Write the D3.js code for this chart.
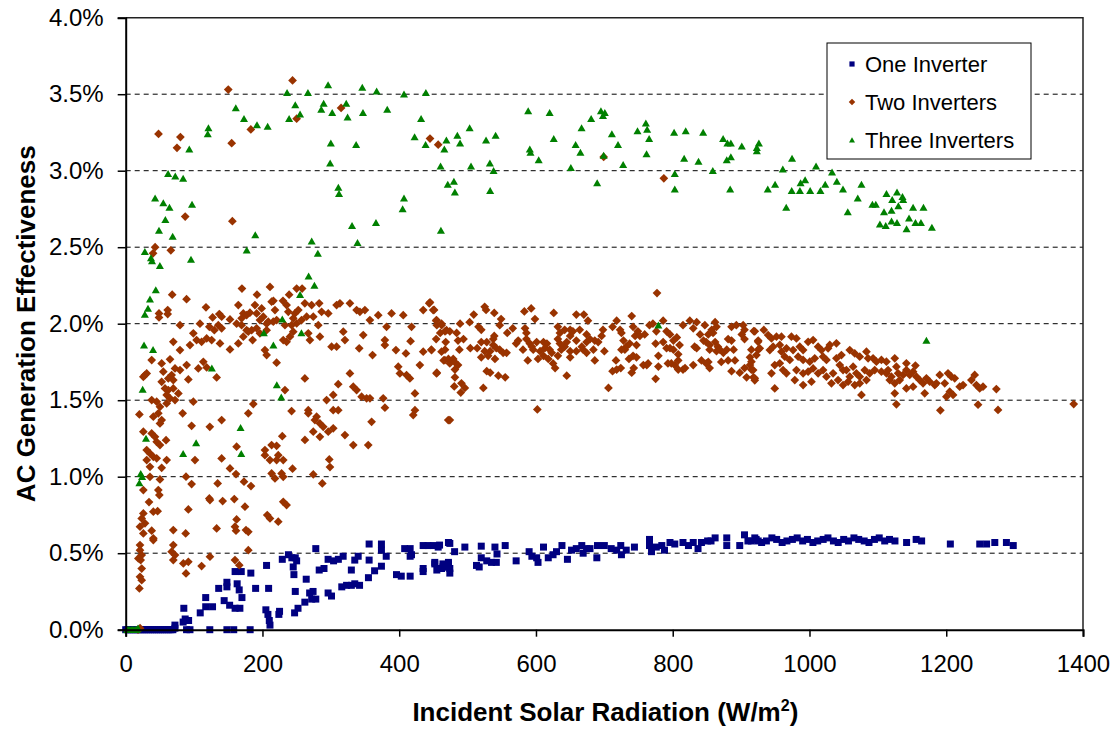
<!DOCTYPE html>
<html lang="en">
<head>
<meta charset="UTF-8">
<title>AC Generation Effectiveness</title>
<style>
    html, body { margin: 0; padding: 0; background: #fff; overflow: hidden; }
    svg { display: block; }
</style>
</head>
<body>
<svg width="1118" height="730"></svg>
<script src="https://d3js.org/d3.v7.min.js"></script>
<script>

// Axis ticks
const xTicks = [0, 200, 400, 600, 800, 1000, 1200, 1400];
const yTicks = [0, 0.5, 1.0, 1.5, 2.0, 2.5, 3.0, 3.5, 4.0];

const seriesNames = ['One Inverter', 'Two Inverters', 'Three Inverters'];

// [radiation W/m2, effectiveness %]
const oneInverter = [
    [0,0],[3,0],[6,0],[9,0],[12,0],[15,0],[18,0],[21,0],[24,0],[27,0],[30,0],[33,0],[36,0],[39,0],[42,0],
    [45,0],[48,0],[51,0],[54,0],[57,0],[60,0],[63,0],[66,0],[69,0],[72,0.01],
    [89,0],[94,0],[123,0],[148,0],[158,0],[182,0],
    [72,0.03],[84,0.05],[87,0.07],[92,0.06],[85,0.14],[109,0.11],[117,0.15],[127,0.15],[117,0.21],
    [136,0.27],[148,0.28],[148,0.31],[144,0.19],[152,0.16],[160,0.14],[167,0.14],[160,0.38],[169,0.38],
    [163,0.30],[166,0.26],[170,0.21],[183,0.37],[190,0.27],[206,0.42],[209,0.27],[205,0.13],[208,0.10],
    [210,0.06],[211,0.03],[225,0.12],[224,0.10],[229,0.46],[238,0.49],[243,0.47],[248,0.47],[250,0.45],
    [245,0.41],[246,0.36],[248,0.25],[247,0.11],[252,0.14],[264,0.33],[262,0.18],[272,0.20],[278,0.20],
    [269,0.24],[274,0.25],[278,0.53],[283,0.39],[290,0.40],[296,0.46],[304,0.45],[311,0.46],[318,0.48],
    [296,0.24],[301,0.22],[316,0.28],[323,0.29],[330,0.29],[335,0.30],[342,0.29],[330,0.39],[335,0.455],
    [340,0.48],[356,0.455],[356,0.56],[374,0.56],[374,0.52],[381,0.48],[355,0.34],[364,0.385],[374,0.415],
    [396,0.36],[403,0.35],[416,0.35],[408,0.53],[416,0.53],[416,0.48],[418,0.49],[435,0.55],[442,0.55],
    [450,0.55],[457,0.54],[435,0.40],[435,0.38],[452,0.43],[457,0.40],[464,0.41],[472,0.43],[472,0.57],
    [459,0.553],[452,0.44],[455,0.39],[464,0.43],[472,0.44],[469,0.41],[474,0.40],[474,0.37],[462,0.40],
    [474,0.564],[481,0.51],[496,0.54],[513,0.42],[517,0.41],[520,0.47],[528,0.45],[535,0.44],[542,0.44],
    [540,0.54],[543,0.495],[555,0.55],[520,0.546],[571,0.45],[590,0.51],[594,0.48],[601,0.47],[603,0.44],
    [611,0.54],[618,0.47],[625,0.49],[630,0.51],[638,0.55],[646,0.46],[652,0.52],[659,0.53],[667,0.55],
    [674,0.53],[689,0.47],[690,0.55],[669,0.50],[679,0.53],[700,0.55],[710,0.53],[718,0.52],[724,0.55],
    [725,0.49],[732,0.52],[744,0.54],[766,0.59],[769,0.51],[766,0.55],[776,0.54],[784,0.55],[788,0.52],
    [796,0.57],[803,0.56],[815,0.57],[823,0.55],[830,0.57],[837,0.53],[842,0.57],[851,0.58],[856,0.58],
    [862,0.60],[879,0.60],[879,0.55],[898,0.55],[905,0.62],[910,0.58],[920,0.60],[925,0.58],
    [915,0.58],[922,0.59],[930,0.57],[937,0.58],[945,0.60],[952,0.59],[960,0.57],[967,0.58],[975,0.59],
    [982,0.60],[990,0.58],[997,0.59],[1005,0.57],[1012,0.58],[1020,0.59],[1027,0.60],[1035,0.58],
    [1042,0.57],[1050,0.59],[1057,0.58],[1065,0.60],[1072,0.59],[1080,0.58],[1087,0.57],[1095,0.59],
    [1102,0.60],[1110,0.58],[1117,0.59],[1125,0.58],[1142,0.57],[1156,0.59],[1164,0.58],[1206,0.56],
    [1249,0.56],[1259,0.56],[1271,0.57],[1288,0.57],[1298,0.55]
];

const twoInverters = [
    [18,0],[21,0.01],
    [244,3.59],[150,3.53],[48,3.24],[80,3.22],[75,3.15],[155,3.18],[183,3.27],[250,3.34],[315,3.41],
    [445,3.21],[457,3.17],[87,2.70],[156,2.67],[43,2.50],[40,2.46],[66,2.48],[170,2.23],[211,2.24],
    [192,2.19],[68,2.19],[89,2.16],[250,2.23],[258,2.23],[239,2.19],[230,2.15],[216,2.15],
    [699,3.09],[787,2.95],[777,2.20],
    [48.7,2.067],[48.7,2.041],[61.4,2.089],[61.4,2.063],[117.4,2.107],[136.9,2.063],[140.3,2.046],
    [127.1,2.041],[152.5,2.028],[164.7,2.122],[172,2.067],[169.5,2.035],[176.8,2.056],[181.7,2.072],
    [189,2.122],[191.5,2.067],[198.8,2.10],[201.2,2.046],[213.4,2.144],[218.3,2.089],[208.5,2.013],
    [220.7,2.024],[235.3,2.122],[237.8,2.078],[245,2.035],[247.5,2.067],[252.4,2.089],[250,2.002],
    [262,2.133],[271.9,2.122],[283,2.133],
    [79.4,1.99],[108.6,2.0],[122.3,1.98],[129.6,1.958],[135.4,1.99],[140.3,1.97],
    [162.2,2.0],[169.5,1.99],[176.8,1.958],[184.2,1.958],[191.5,1.97],[196.3,2.024],[206.1,2.0],
    [215.8,2.013],[232.9,1.99],[242.6,1.99],[257.2,2.024],[264.6,2.046],[274.3,2.046],[281.6,1.99],
    [286.5,2.078],[296.2,2.067],[308.4,2.122],[313.3,2.133],[327.9,2.133],[337.7,2.089],[342.5,2.078],
    [349.8,2.089],[357.1,2.024],[369.3,2.056],[381.5,1.98],[388.8,2.067],[405.9,2.056],[418,1.98],
    [435.1,2.089],[443.9,2.133],[449.7,2.089],[454.6,2.024],[461.9,2.0],[469.2,1.958],
    [69.6,1.882],[79.4,1.828],[98.9,1.937],[94,1.86],[103.7,1.893],[111,1.882],[118.4,1.904],
    [125.7,1.893],[137.9,1.871],[152.5,1.832],[164.7,1.871],[172,1.915],[179.3,1.948],[185.6,1.893],
    [196.3,1.937],[206.1,1.958],[203.6,1.828],[206.1,1.795],[220.7,1.745],[230.4,1.893],[235.3,1.882],
    [240.2,1.915],[245,1.948],[267,1.937],[269.4,1.893],[284,1.915],[301.1,1.85],[308.4,1.85],
    [318.2,1.948],[320.6,1.893],[341.5,1.839],[347.4,1.926],[361,1.795],[379,1.893],[379,1.86],
    [395.2,1.828],[409.8,1.806],[416.6,1.886],[435.1,1.817],[447.3,1.828],[461.9,1.817],[466.8,1.762],
    [28.2,1.664],[30.7,1.675],[25.8,1.653],[38,1.762],[52.6,1.74],[55,1.686],[64.8,1.767],[72.1,1.708],
    [79.4,1.697],[67.2,1.664],[62.3,1.642],[52.6,1.62],[69.6,1.632],[89.1,1.73],[91.6,1.636],
    [106.2,1.708],[113.5,1.751],[133,1.649],[118.4,1.714],
    [57.5,1.577],[62.3,1.566],[69.6,1.577],[59.9,1.534],[64.8,1.512],[72.1,1.501],[77,1.544],
    [59.9,1.479],[45.3,1.49],[50.1,1.457],[38,1.501],[47.7,1.414],[52.6,1.37],[40.4,1.392],[50.1,1.348],
    [98.9,1.49],[83.3,1.414],[96.4,1.333],[123,1.326],[140.3,1.37],[179.3,1.414],[186.6,1.475],
    [232.9,1.566],[242.6,1.429],[262,1.642],[267,1.435],[267,1.414],[279.2,1.392],[276.7,1.37],
    [284,1.348],[288.9,1.326],[274.3,1.294],[284,1.261],[262.1,1.24],[293.8,1.501],[303.5,1.534],
    [310.8,1.605],[327.9,1.675],[332.8,1.588],[337.7,1.566],[345,1.523],[352.3,1.512],[357.2,1.512],
    [303.5,1.435],[310.8,1.435],[303.5,1.316],[296.2,1.294],[320.6,1.272],[332.8,1.207],[354.7,1.207],
    [359.6,1.359],[376.6,1.512],[379.1,1.451],[423,1.544],[423,1.435],[420.5,1.403],[471.7,1.37],
    [454.6,1.675],[410.7,1.664],[401,1.675],[415.6,1.642],[398.6,1.719],[430.2,1.73],
    [220.7,1.202],[213.4,1.207],[203.6,1.174],[203.6,1.141],[210.9,1.109],[223.1,1.141],[230.4,1.109],
    [220.7,1.109],[213.4,1.021],[218.3,0.989],[228,1.021],[230.4,0.999],[244,1.052],[229,1.265],
    [162.2,1.196],[152.5,1.054],[140.3,1.119],[101.3,1.109],[88.2,1.0],[96.4,0.952],[134.5,0.956],
    [161.3,1.017],[173,0.967],[183.2,0.939],[274.3,1.015],[287.5,0.956],[297.7,1.113],[298.7,1.063],
    [20,1.407],[25.8,1.294],[38,1.283],[42.8,1.261],[45.3,1.228],[50.1,1.207],[30.7,1.174],[35.5,1.152],
    [40.4,1.13],[30.7,1.109],[45.3,1.12],[35.5,1.065],[59.9,1.109],[52.6,1.058],[35.5,0.999],[50.1,0.982],
    [25.8,0.913],[47.7,0.913],[49.2,0.88],[34.1,0.834],[40.4,0.771],[46.7,0.775],[25.8,0.76],[23.4,0.727],
    [28.2,0.695],[20.9,0.673],[25.8,0.629],[38,0.647],[40.4,0.597],
    [59,1.239],[91.6,0.786],[122.3,0.858],[123.2,0.847],[141.8,0.841],[158.8,0.854],[174.4,0.804],
    [162.2,0.721],[159.8,0.673],[161.3,0.647],[175.9,0.651],[179.3,0.64],[133,0.662],[87.7,0.629],
    [69.6,0.651],[207,0.749],[211,0.727],[223.1,0.706],[230.4,0.836],[235.3,0.815],
    [20.9,0.553],[20.9,0.52],[23.4,0.488],[21.9,0.455],[18.5,0.466],[69.6,0.553],[67.2,0.51],[72.1,0.488],
    [69.6,0.455],[84.3,0.433],[91.6,0.444],[111,0.416],[88.2,0.368],[123.2,0.477],[159.8,0.455],
    [166.1,0.422],[179.3,0.52],[23.4,0.40],[20.9,0.346],[23.4,0.324],[20,0.27],[40.4,0.586],
    [445,2.14],[451,2.09],[454,2.02],[455,1.99],[462,1.99],[447,1.83],[454,1.90],[460,1.94],[467,1.95],
    [474,1.95],[468,1.88],[467,1.83],[465,1.76],[472,1.77],[479,1.77],[474,1.74],[481,1.75],[486,1.73],
    [455,1.68],[481.5,1.70],[481.5,1.65],[480.5,1.59],[491,1.61],[496,1.58],[490,1.55],[474,1.37],
    [489,2.00],[484,1.94],[486,1.89],[494,1.90],[488,1.83],[503,2.01],[509,2.06],[516,1.98],[520,1.96],
    [525,2.11],[527,2.09],[539,2.07],[549,2.03],[547,1.99],[539,1.92],[537.5,1.90],[558,1.94],[566,1.97],
    [520,1.88],[528,1.88],[537.5,1.86],[504,1.84],[514,1.84],[525,1.82],[533,1.82],[542,1.84],[547,1.83],
    [552,1.81],[557,1.81],[520,1.78],[530,1.79],[540,1.77],[528,1.69],[533,1.68],[545,1.66],[555,1.65],
    [523,1.58],[571,1.87],[574,1.89],[583,2.08],[593,2.10],[598.5,2.03],[584,1.97],[586,1.94],[586,1.90],
    [591,1.87],[596,1.83],[601,1.88],[611,1.88],[616,1.87],[581,1.83],[594,1.85],[606,1.82],[613,1.84],
    [620,1.83],[588,1.76],[603,1.77],[611,1.79],[618,1.77],[623,1.81],[625,1.74],[628,1.71],[602,1.44],
    [626,2.07],[632,1.98],[635,1.94],[632,1.90],[635,1.87],[637,1.83],[632,1.79],[642,1.85],[645,1.88],
    [650,1.92],[650,1.78],[645,1.66],[642,1.96],[650,1.96],[654,1.95],[664,1.96],[674,1.93],[659,2.06],
    [670,2.06],[676,2.02],[659,1.89],[667,1.85],[674,1.88],[679,1.90],[686,1.89],[691,1.88],[696,1.92],
    [698,1.96],[650,1.82],[659,1.82],[669,1.83],[674,1.81],[684,1.83],[686,1.76],[700,1.82],[706,1.58],
    [712,1.69],[718,1.70],[724,1.71],[717,1.76],[712,1.98],[718,2.02],[723,1.96],[725,1.94],[728,1.89],
    [730,1.83],[732,1.85],[725,1.83],[737,1.87],[740,2.05],[742,1.98],[745,1.92],[747,1.86],[749,1.95],
    [752,1.92],[759,1.93],[766,1.99],[771,2.00],[776,1.95],[736,1.77],[742,1.79],[747,1.78],[740,1.68],
    [743,1.71],[757,1.73],[762,1.73],[764,1.74],[775,1.87],[779,1.79],[779,1.72],[775,1.64],[786,2.02],
    [786,1.88],[791,1.95],[796,1.93],[801,1.89],[806,1.91],[810,1.86],[791,1.84],[796,1.84],[801,1.83],
    [808,1.80],[793,1.74],[798,1.74],[803,1.73],[808,1.76],[815,1.70],[818,1.71],[808,1.70],[815,1.99],
    [825,2.02],[835,2.01],[830,1.97],[847,1.99],[862,2.01],[864,1.98],[832,1.85],[835,1.84],[840,1.93],
    [845,1.89],[852,1.93],[857,1.96],[859,1.94],[849,1.88],[854,1.86],[862,1.88],[866,1.85],[854,1.83],
    [864,1.82],[869,1.83],[874,1.81],[830,1.73],[842,1.76],[849,1.74],[854,1.71],[852,1.75],[871,1.75],
    [881,1.76],[891,1.76],[879,1.83],[889,1.83],[881,1.90],[886,1.89],[886,1.98],[893,1.99],[903,1.99],
    [905,1.96],[901,1.93],[905,1.90],[886,1.69],[898,1.68],[905,1.71],[908,1.65],[913,1.78],[915,1.83],
    [913,1.73],[915,1.70],[918,1.65],[920,1.63],[920,1.95],[925,1.89],[925,1.83],
    [918.5,1.952],[933.2,1.959],[939.5,1.926],[944.4,1.904],[951.7,1.915],[959,1.915],[924.9,1.882],
    [927.3,1.839],[922.4,1.795],[915.1,1.752],[917.6,1.697],[920,1.643],[942,1.828],[946.8,1.85],
    [956.6,1.861],[959,1.817],[966.3,1.839],[963.9,1.784],[971.2,1.763],[956.6,1.741],[961.4,1.697],
    [966.3,1.676],[949.2,1.73],[944.4,1.676],[949.2,1.577],[973.6,1.915],[980.9,1.904],[976,1.828],
    [985.8,1.85],[990.7,1.828],[998,1.882],[1005.3,1.893],[1012.6,1.85],[1017.5,1.828],[1027.2,1.839],
    [1029.7,1.861],[1039.4,1.872],[983.4,1.784],[990.7,1.763],[1000.4,1.752],[1007.7,1.774],
    [1005.3,1.708],[998,1.686],[990.7,1.676],[980.9,1.697],[978.5,1.632],[990.7,1.599],[1002.9,1.621],
    [1012.6,1.676],[1019.9,1.697],[1024.8,1.654],[1034.5,1.676],[1041.8,1.632],[1032.1,1.61],
    [1019.9,1.784],[1024.8,1.763],[1039.4,1.774],[1044.3,1.73],[1049.1,1.697],[1046.7,1.795],
    [1058.9,1.828],[1066.2,1.806],[1073.5,1.784],[1083.3,1.817],[1085.7,1.774],[1093,1.774],
    [1097.9,1.752],[1105.2,1.763],[1112.5,1.752],[1054,1.697],[1058.9,1.654],[1063.8,1.719],
    [1068.6,1.676],[1073.5,1.654],[1080.8,1.697],[1088.1,1.676],[1095.4,1.697],[1105.2,1.686],
    [1112.5,1.676],[1114.9,1.697],[1119.8,1.654],[1124.7,1.774],[1127.1,1.719],[1129.6,1.676],
    [1049.1,1.599],[1056.5,1.621],[1066.2,1.599],[1073.5,1.61],[1083.3,1.632],[1076,1.534],
    [1117.4,1.632],[1124.7,1.61],[1132,1.632],[1136.9,1.665],[1141.7,1.697],[1146.6,1.665],
    [1151.5,1.686],[1141.7,1.741],[1154.9,1.726],[1156.4,1.654],[1161.2,1.632],[1166.1,1.61],
    [1171,1.643],[1175.8,1.621],[1183.2,1.599],[1185.6,1.61],[1190.5,1.665],[1197.8,1.61],
    [1202.6,1.676],[1207.5,1.654],[1212.4,1.643],[1205.1,1.556],[1200.2,1.523],[1210,1.534],
    [1219.7,1.588],[1224.6,1.599],[1236.8,1.632],[1241.6,1.665],[1244.1,1.599],[1248.9,1.577],
    [1253.8,1.588],[1273.3,1.573],[1124.7,1.545],[1127.1,1.473],[1141.7,1.577],[1151.5,1.588],
    [1168.5,1.545],[1191.4,1.434],[1246.5,1.471],[1275.7,1.436],[1386.4,1.475]
];

const threeInverters = [
    [2,0],[4,0],[6,0],[8,0],[10,0],[12,0],[14,0],[16,0],[18,0.01],
    [296,3.56],[236,3.51],[266.5,3.51],[346,3.545],[367,3.52],[407,3.50],[439,3.51],[161,3.41],[173,3.34],
    [192,3.30],[207.6,3.29],[121,3.28],[120,3.24],[93,3.14],[239,3.34],[248,3.43],[255,3.37],[289.5,3.44],
    [286,3.40],[302,3.38],[322.5,3.44],[324.5,3.35],[347,3.38],[382.5,3.40],[432,3.34],[300,3.18],
    [337,3.17],[299,3.05],[422.5,3.22],[438.6,3.17],[466,3.14],[469,3.20],[460.5,3.03],[471,2.91],
    [62,2.98],[72.5,2.965],[84,2.95],[43,2.82],[55,2.79],[64,2.76],[97,2.78],[58,2.68],[48.7,2.61],
    [68.7,2.57],[311,2.89],[312,2.85],[407,2.82],[405,2.75],[331,2.64],[366,2.66],[461,2.61],[189.5,2.58],
    [272,2.54],[281,2.46],[339,2.53],[177,2.48],[28,2.47],[38.5,2.41],[37,2.43],[50,2.38],[95.5,2.42],
    [267.5,2.31],[276,2.25],[255,2.19],[44,2.22],[35.5,2.16],[32.6,2.10],
    [588.6,3.39],[620,3.38],[503,3.28],[485,3.23],[489,3.18],[527,3.20],[541,3.23],[505,3.03],
    [532.6,3.05],[538,3.00],[480,2.93],[481.4,2.86],[533,2.87],[591,3.14],[592,3.12],[604,3.07],
    [626,3.21],[651,3.02],[658,3.17],[665,3.12],[666.7,3.28],[680.7,3.34],[689.5,2.92],[695,3.39],
    [700.7,3.38],[698,3.36],[699,3.10],[711,3.24],[720,3.17],[727.5,3.04],[748.5,3.26],[760.7,3.31],
    [762.6,3.27],[765.5,3.21],[761.7,3.11],[802,3.25],[819,3.26],[844.5,3.25],[803,2.98],[803,2.88],
    [816.7,3.08],[837.7,3.06],[858.6,3.00],[873.7,3.21],[880,3.18],[885,3.18],[879,3.07],[885,3.09],
    [884,2.88],[901,3.16],
    [926,3.18],[923,3.15],[923,3.13],[974.5,3.08],[961,3.01],[1009.6,3.03],[1033,2.99],[939,2.88],
    [949.7,2.91],[987,2.92],[993.6,2.94],[974,2.87],[986,2.87],[1001,2.87],[1016,2.87],[1023,2.91],
    [1040,2.93],[1049,2.88],[1076,2.91],[966,2.76],[1070.6,2.82],[1056,2.73],[1112.6,2.85],[1128,2.86],
    [1136,2.83],[1121,2.81],[1137,2.81],[1130,2.77],[1092,2.78],[1097,2.78],[1151.5,2.76],[1166.7,2.76],
    [1109,2.73],[1120,2.74],[1145.6,2.69],[1103,2.65],[1111.5,2.64],[1120,2.67],[1128,2.66],[1142,2.62],
    [1155,2.66],[1163,2.66],[1179,2.63],
    [28,2.06],[229,2.03],[202,1.94],[257,1.94],[216,1.86],[26.8,1.86],[40,1.83],[126,1.71],[221,1.60],
    [227.5,1.52],[24.8,1.57],[168,1.32],[103,1.22],[84,1.15],[169,1.15],[29.7,1.25],[22,1.02],[24,1.0],
    [20,0.96],[779,1.99],[1171,1.89]
];

const colors = ['#000080', '#993300', '#008000'];
const fontFamily = 'Arial, "Liberation Sans", sans-serif';

// Plot frame in page pixels
const margin = { left: 125.7, right: 35, top: 17.7, bottom: 100.3 };

const svg = d3.select('svg');
const width = +svg.attr('width');
const height = +svg.attr('height');
const innerWidth = width - margin.left - margin.right;
const innerHeight = height - margin.top - margin.bottom;

const xScale = d3.scaleLinear().domain([0, 1400]).range([0, innerWidth]);
const yScale = d3.scaleLinear().domain([0, 4]).range([innerHeight, 0]);

const group = svg.append('g')
    .attr('transform', 'translate(' + margin.left + ' ' + margin.top + ')');

// dashed gridlines
group.append('g')
    .selectAll('line')
    .data(yTicks.filter(function (d) { return d > 0 && d < 4; }))
    .enter()
    .append('line')
    .attr('x1', 0)
    .attr('x2', innerWidth)
    .attr('y1', function (d) { return yScale(d); })
    .attr('y2', function (d) { return yScale(d); })
    .attr('stroke', '#000')
    .attr('stroke-width', 1)
    .attr('stroke-dasharray', '5,4');

// frame top and right
group.append('path')
    .attr('d', 'M0,0H' + innerWidth + 'V' + innerHeight)
    .attr('fill', 'none')
    .attr('stroke', '#222')
    .attr('stroke-width', 1.5);

// marker shapes
const markerPath = function (i, s) {
    if (i === 0) {
        return 'M' + (-s) + ',' + (-s) + 'h' + (2 * s) + 'v' + (2 * s) + 'h' + (-2 * s) + 'Z';
    }
    if (i === 1) {
        const r = s * 1.25;
        return 'M0,' + (-r) + 'L' + r + ',0L0,' + r + 'L' + (-r) + ',0Z';
    }
    const w = s * 1.15;
    return 'M0,' + (-s * 1.05) + 'L' + w + ',' + (s * 0.95) + 'L' + (-w) + ',' + (s * 0.95) + 'Z';
};

const allSeries = [oneInverter, twoInverters, threeInverters];

allSeries.forEach(function (data, i) {
    group.append('g')
        .selectAll('path')
        .data(data)
        .enter()
        .append('path')
        .attr('d', markerPath(i, 3.5))
        .attr('transform', function (d) {
            return 'translate(' + xScale(d[0]) + ',' + yScale(d[1]) + ')';
        })
        .attr('fill', colors[i]);
});

// axes
const xAxisG = group.append('g')
    .attr('transform', 'translate(0 ' + innerHeight + ')')
    .call(d3.axisBottom(xScale).tickValues(xTicks).tickSize(7).tickPadding(18).tickFormat(d3.format('d')));

const yAxisG = group.append('g')
    .call(d3.axisLeft(yScale).tickValues(yTicks).tickSize(8).tickPadding(14)
        .tickFormat(function (d) { return d3.format('.1f')(d) + '%'; }));

[xAxisG, yAxisG].forEach(function (g) {
    g.attr('font-family', fontFamily).attr('font-size', 24);
    g.select('.domain').attr('stroke', '#000').attr('stroke-width', 2);
    g.selectAll('.tick line').attr('stroke', '#000').attr('stroke-width', 1.5);
    g.selectAll('.tick text').attr('fill', '#000');
});

// axis titles
const xTitle = svg.append('text')
    .attr('font-family', fontFamily)
    .attr('font-size', 26)
    .attr('font-weight', 'bold')
    .attr('x', margin.left + innerWidth / 2 + 1)
    .attr('y', 721)
    .style('text-anchor', 'middle');
xTitle.append('tspan').text('Incident Solar Radiation (W/m');
xTitle.append('tspan').text('2').attr('dy', -10).attr('font-size', 16);
xTitle.append('tspan').text(')').attr('dy', 10);

svg.append('text')
    .attr('font-family', fontFamily)
    .attr('font-size', 26)
    .attr('font-weight', 'bold')
    .attr('transform', 'translate(35 ' + (margin.top + innerHeight / 2) + ') rotate(-90)')
    .style('text-anchor', 'middle')
    .text('AC Generation Effectiveness');

// legend
const legend = svg.append('g').attr('transform', 'translate(827 43)');
legend.append('rect')
    .attr('width', 204)
    .attr('height', 116)
    .attr('fill', '#fff')
    .attr('stroke', '#000')
    .attr('stroke-width', 1);

seriesNames.forEach(function (name, i) {
    const row = legend.append('g').attr('transform', 'translate(25 ' + (21 + i * 38) + ')');
    row.append('path').attr('d', markerPath(i, 2.6)).attr('fill', colors[i]);
    row.append('text')
        .attr('font-family', fontFamily)
        .attr('font-size', 22)
        .attr('fill', '#000')
        .attr('x', 13)
        .attr('y', 8)
        .text(name);
});

</script>
</body>
</html>
